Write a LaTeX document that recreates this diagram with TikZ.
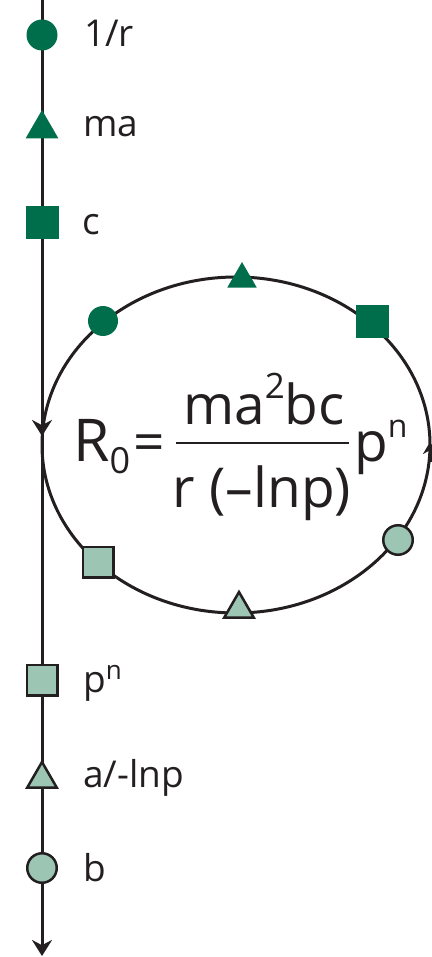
\documentclass[tikz,border=0pt]{standalone}
\usepackage{fontspec}
\setmainfont{Open Sans}
\usetikzlibrary{shapes.geometric,arrows.meta}
\definecolor{dkg}{HTML}{006E4A}
\definecolor{ltg}{HTML}{9CC5B4}
\definecolor{ink}{HTML}{231F20}
\newcommand{\upidx}[3]{\raisebox{#2}{\fontsize{#3}{#3}\selectfont #1}}
\newcommand{\dnidx}[3]{\raisebox{-#2}{\fontsize{#3}{#3}\selectfont #1}}
\tikzset{
  dcirc/.style={circle,fill=dkg,draw=none,minimum size=31pt,inner sep=0pt},
  dsq/.style={rectangle,fill=dkg,draw=none,minimum size=33pt,inner sep=0pt},
  dtri/.style={regular polygon,regular polygon sides=3,fill=dkg,draw=none,minimum size=38pt,inner sep=0pt},
  lcirc/.style={circle,fill=ltg,draw=ink,line width=2.5pt,minimum size=29.5pt,inner sep=0pt},
  lsq/.style={rectangle,fill=ltg,draw=ink,line width=2.5pt,minimum size=30.5pt,inner sep=0pt},
  ltri/.style={regular polygon,regular polygon sides=3,fill=ltg,draw=ink,line width=2.5pt,minimum size=34pt,inner sep=0pt},
  lbl/.style={anchor=base west,inner sep=0pt,font=\fontsize{37}{40}\selectfont,text=ink},
  eqf/.style={inner sep=0pt,text=ink,font=\fontsize{55}{60}\selectfont},
  axis/.style={draw=ink,line width=3pt},
  tip/.style={-{Stealth[length=16pt,width=20pt]}},
}
\begin{document}
\begin{tikzpicture}[x=1pt,y=-1pt]
\useasboundingbox (0,0) rectangle (431,957);
% vertical axis
\coordinate (top) at (42,0);
\coordinate (mid) at (42,436);
\coordinate (bot) at (42,956);
\draw[axis,tip] (top) -- (mid);
\draw[axis,tip] (mid) -- (bot);
% ellipse
\coordinate (ec) at (236,445);
\draw[ink,line width=3pt] (ec) ellipse [x radius=194, y radius=168];
\coordinate (ra) at (430,462);
\coordinate (rb) at (430,442);
\draw[ink,line width=3pt,-{Stealth[length=12pt,width=14pt]}] (ra) -- (rb);
% markers on axis
\node[dcirc] (m1) at (42,35) {};
\node[dtri] (m2) at (42,129) {};
\node[dsq] (m3) at (42,223) {};
\node[lsq] (m4) at (42,680) {};
\node[ltri] (m5) at (42,779) {};
\node[lcirc] (m6) at (42,868) {};
% labels
\node[lbl] (t1) at (84,47) {1/r};
\node[lbl] (t2) at (83,137) {ma};
\node[lbl] (t3) at (82,235) {c};
\node[lbl] (t4) at (83,692) {p\upidx{n}{13pt}{26pt}};
\node[lbl] (t5) at (83,787) {a/-lnp};
\node[lbl] (t6) at (83,881) {b};
% markers on ellipse
\node[dtri,minimum size=34pt] (e1) at (242,279) {};
\node[dcirc,minimum size=30pt] (e2) at (103,321) {};
\node[dsq] (e3) at (372,321) {};
\node[lcirc] (e4) at (398,540) {};
\node[lsq] (e5) at (98,562) {};
\node[ltri] (e6) at (239,609) {};
% formula
\node[eqf,anchor=base west,font=\fontsize{59}{62}\selectfont] (rr) at (73,461) {R\dnidx{0}{12pt}{36pt}};
\node[eqf,anchor=base west] (eqs) at (133,461) {=};
\node[eqf,anchor=base] (num) at (264,424) {ma\upidx{2}{26pt}{35pt}bc};
\node[eqf,anchor=base] (den) at (262,507) {r (–lnp)};
\coordinate (b1) at (176,443);
\coordinate (b2) at (349,443);
\draw[ink,line width=2.8pt] (b1) -- (b2);
\node[eqf,anchor=base west] (pn) at (354,461) {p\upidx{n}{24pt}{32pt}};
\end{tikzpicture}
\end{document}
